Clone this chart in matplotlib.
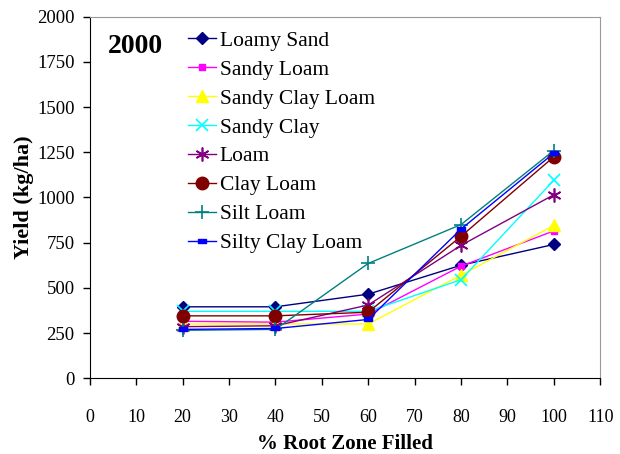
import matplotlib
matplotlib.use("Agg")
import matplotlib.pyplot as plt
from matplotlib.path import Path

plt.rcParams['font.family'] = 'serif'
plt.rcParams['font.serif'] = ['Liberation Serif', 'DejaVu Serif']

x = [20, 40, 60, 80, 100]
series_names = ["Loamy Sand", "Sandy Loam", "Sandy Clay Loam", "Sandy Clay",
                "Loam", "Clay Loam", "Silt Loam", "Silty Clay Loam"]
loamy_sand = [395, 395, 465, 625, 740]
sandy_loam = [315, 310, 355, 620, 815]
sandy_clay_loam = [300, 300, 300, 570, 845]
sandy_clay = [370, 370, 370, 545, 1095]
loam = [285, 290, 405, 735, 1015]
clay_loam = [345, 345, 365, 785, 1225]
silt_loam = [265, 270, 635, 850, 1260]
silty_clay_loam = [270, 275, 325, 825, 1245]
values = [loamy_sand, sandy_loam, sandy_clay_loam, sandy_clay, loam,
          clay_loam, silt_loam, silty_clay_loam]

rect = Path([(-1, -0.45), (1, -0.45), (1, 0.45), (-1, 0.45), (-1, -0.45)],
            [Path.MOVETO, Path.LINETO, Path.LINETO, Path.LINETO, Path.CLOSEPOLY])

colors = ['#000080', '#FF00FF', '#FFFF00', '#00FFFF', '#800080', '#800000',
          '#008080', '#0000FF']
markers = ['D', 's', '^', 'x', (6, 2, 0), 'o', '+', rect]
msizes = [6.5, 4.5, 9, 9, 10, 9, 10, 6]

fig = plt.figure(figsize=(6.2, 4.54), dpi=100)
ax = fig.add_axes([0.145, 0.167, 0.823, 0.796])

for name, v, c, m, ms in zip(series_names, values, colors, markers, msizes):
    kw = dict(color=c, marker=m, markersize=ms, linewidth=1.0, label=name,
              markerfacecolor=c, markeredgecolor=c)
    if (isinstance(m, str) and m in ('x', '+')) or isinstance(m, tuple):
        kw['markeredgewidth'] = 1.2
    ax.plot(x, v, **kw)

ax.set_xlim(0, 110)
ax.set_ylim(0, 2000)
ax.set_xticks(range(0, 111, 10))
ax.set_yticks(range(0, 2001, 250))
ax.tick_params(direction='out', length=5, width=1)
ax.tick_params(axis='x', labelsize=13, pad=17)
ax.tick_params(axis='y', labelsize=13.5, pad=6)
ax.set_xlabel('% Root Zone Filled', fontsize=15, fontweight='bold')
ax.set_ylabel('Yield (kg/ha)', fontsize=16, fontweight='bold')
ax.xaxis.set_label_coords(0.5, -0.155)
ax.yaxis.set_label_coords(-0.11, 0.5)
for s in ['top', 'right']:
    ax.spines[s].set_color('#999999')
for s in ['left', 'bottom']:
    ax.spines[s].set_color('black')

ax.text(0.035, 0.952, '2000', transform=ax.transAxes, fontsize=20,
        fontweight='bold', va='top', ha='left')

ax.legend(loc='upper left', bbox_to_anchor=(0.162, 1.003), frameon=False,
          fontsize=15.5, handlelength=1.3, handletextpad=0.2,
          labelspacing=0.41, borderaxespad=0.3)

fig.savefig('out.png', dpi=100)
